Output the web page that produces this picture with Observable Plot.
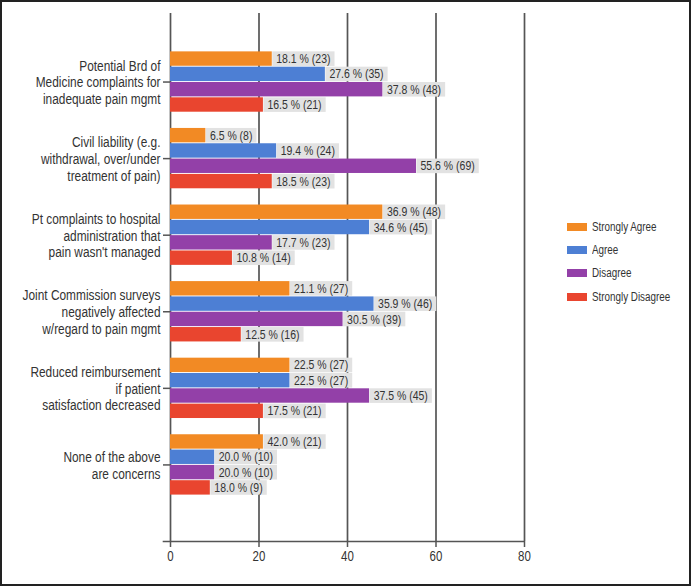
<!DOCTYPE html>
<html>
<head>
<meta charset="utf-8">
<script src="https://cdn.jsdelivr.net/npm/d3@7"></script>
<script src="https://cdn.jsdelivr.net/npm/@observablehq/plot@0.6"></script>
<style>
  html, body { margin: 0; padding: 0; background: #fff; }
  #wrap { position: relative; width: 694px; height: 586px; background: #fff; overflow: hidden;
          font-family: 'Liberation Sans', Arial, sans-serif; }
  #wrap svg { position: absolute; left: 0; top: 0; }
  #frame { position: absolute; left: 0; top: 0; width: 691px; height: 586px; border: 2px solid #222; box-sizing: border-box; pointer-events: none; }
  #legend { position: absolute; left: 567px; top: 215px; font-size: 12px; color: #333; }
  #legend .row { display: flex; align-items: center; height: 23.4px; white-space: nowrap; }
  #legend .sw { width: 20px; height: 8px; margin-right: 5px; flex: none; }
  #legend .tx { display: inline-block; transform: scaleX(0.82); transform-origin: left center; }
</style>
</head>
<body>
<div id="wrap"><div id="legend"></div><div id="frame"></div></div>
<script>
const categories = [
  "Potential Brd of\nMedicine complaints for\ninadequate pain mgmt",
  "Civil liability (e.g.\nwithdrawal, over/under\ntreatment of pain)",
  "Pt complaints to hospital\nadministration that\npain wasn't managed",
  "Joint Commission surveys\nnegatively affected\nw/regard to pain mgmt",
  "Reduced reimbursement\nif patient\nsatisfaction decreased",
  "None of the above\nare concerns"
];
const series = ["Strongly Agree", "Agree", "Disagree", "Strongly Disagree"];
const seriesColors = ["#f28a24", "#4d7fd4", "#9340a8", "#e9452f"];
// percentages shown in labels
const percents = [
  [18.1, 27.6, 37.8, 16.5],
  [6.5, 19.4, 55.6, 18.5],
  [36.9, 34.6, 17.7, 10.8],
  [21.1, 35.9, 30.5, 12.5],
  [22.5, 22.5, 37.5, 17.5],
  [42.0, 20.0, 20.0, 18.0]
];
// counts shown in labels
const counts = [
  [23, 35, 48, 21],
  [8, 24, 69, 23],
  [48, 45, 23, 14],
  [27, 46, 39, 16],
  [27, 27, 45, 21],
  [21, 10, 10, 9]
];
// bar lengths as drawn in the picture
const barLengths = [
  [23, 35, 48, 21],
  [8, 24, 55.6, 23],
  [48, 45, 23, 14],
  [27, 46, 39, 16],
  [27, 27, 45, 21],
  [21, 10, 10, 9]
];
const xTicks = [0, 20, 40, 60, 80];

const step = 0.2;      // band step of one series within a group (in group units)
const half = 0.094;    // half bar thickness (in group units)
const table = [];
categories.forEach((c, i) => {
  series.forEach((s, j) => {
    const yc = i + (j - 1.5) * step;
    table.push({
      category: c, series: s, value: barLengths[i][j],
      label: `${percents[i][j].toFixed(1)} % (${counts[i][j]})`,
      y: yc, y1: yc - half, y2: yc + half
    });
  });
});

const plot = Plot.plot({
  width: 694,
  height: 586,
  marginLeft: 170,
  marginRight: 170,
  marginTop: 13,
  marginBottom: 45,
  style: { fontFamily: "'Liberation Sans', Arial, sans-serif", background: "transparent", color: "#333" },
  x: { domain: [0, 80], ticks: xTicks, label: null },
  y: { type: "linear", domain: [-0.895, 6.0], reverse: true, label: null },
  color: { domain: series, range: seriesColors },
  marks: [
    Plot.ruleX(xTicks, { stroke: "#555", strokeWidth: 1.7 }),
    Plot.ruleY([6.0], { x1: 0, x2: 80, stroke: "#555", strokeWidth: 1.7, insetLeft: -7.3 }),
    Plot.rect(table, { x1: 0, x2: "value", y1: "y1", y2: "y2", fill: "series" }),
    Plot.text(table, { x: "value", y: "y", text: "label", textAnchor: "start", dx: 4, fill: "#333", fontSize: 12.8 }),
    Plot.axisX({ ticks: xTicks, tickSize: 6, tickPadding: 4, fontSize: 14, stroke: "#555", strokeWidth: 1.5, label: null }),
    Plot.axisY({ ticks: d3.range(categories.length), tickFormat: i => categories[i], tickSize: 7, tickPadding: 3, fontSize: 14.5, lineHeight: 1.15, stroke: "#555", strokeWidth: 1.5, label: null })
  ]
});

const wrap = document.getElementById("wrap");
wrap.insertBefore(plot, wrap.firstChild);

const svgNS = "http://www.w3.org/2000/svg";
const S = 0.82; // horizontal condensing, narrow type look

// gray label boxes behind the value labels
plot.querySelectorAll('g[aria-label="text"] text').forEach(t => {
  const b = t.getBBox();
  const r = document.createElementNS(svgNS, "rect");
  r.setAttribute("x", b.x - 4 / S);
  r.setAttribute("y", b.y + b.height / 2 - 7.3);
  r.setAttribute("width", b.width + 8 / S);
  r.setAttribute("height", 14.6);
  r.setAttribute("fill", "#e2e2e2");
  if (t.getAttribute("transform")) r.setAttribute("transform", t.getAttribute("transform"));
  t.parentNode.insertBefore(r, t);
  r.__cond = true;
});

// condense every text (and label box) horizontally about its anchor
plot.querySelectorAll("text, rect").forEach(el => {
  if (el.tagName === "rect" && !el.__cond) return;
  const tr = el.getAttribute("transform");
  if (tr) {
    el.setAttribute("transform", tr + ` scale(${S},1)`);
  } else {
    const x = +(el.getAttribute("x") || 0);
    el.setAttribute("transform", `translate(${x},0) scale(${S},1) translate(${-x},0)`);
  }
});

// legend
const legend = document.getElementById("legend");
series.forEach((s, j) => {
  const row = document.createElement("div");
  row.className = "row";
  const sw = document.createElement("span");
  sw.className = "sw";
  sw.style.background = seriesColors[j];
  const tx = document.createElement("span");
  tx.className = "tx";
  tx.textContent = s;
  row.appendChild(sw); row.appendChild(tx);
  legend.appendChild(row);
});
</script>
</body>
</html>
